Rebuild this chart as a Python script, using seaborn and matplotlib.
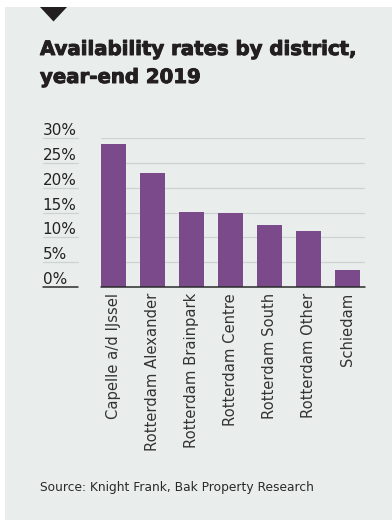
import matplotlib
matplotlib.use("Agg")
import matplotlib.pyplot as plt
import matplotlib.transforms as mtransforms
import matplotlib.patheffects as pe
from matplotlib.patches import Rectangle, Polygon
from matplotlib.lines import Line2D
import seaborn as sns
import pandas as pd

districts = ["Capelle a/d IJssel", "Rotterdam Alexander", "Rotterdam Brainpark",
             "Rotterdam Centre", "Rotterdam South", "Rotterdam Other", "Schiedam"]
availability = [28.9, 23.0, 15.1, 14.9, 12.5, 11.3, 3.4]
y_ticks = [0, 5, 10, 15, 20, 25, 30]
y_tick_labels = ["0%", "5%", "10%", "15%", "20%", "25%", "30%"]

title_lines = ["Availability rates by district,", "year-end 2019"]
source_text = "Source: Knight Frank, Bak Property Research"

W, H = 392, 520
BG = "#E9EEEC"
BAR = "#7B4A8A"

sns.set_theme(style="white")
plt.rcParams["font.family"] = ["DejaVu Sans"]

fig = plt.figure(figsize=(W / 100, H / 100), dpi=100, facecolor="white")

def fx(px):
    return px / W

def fy(py):
    return 1 - py / H

# panel background and marker triangle
fig.patches.append(Rectangle((fx(5), 0), 1 - fx(5), fy(7), transform=fig.transFigure,
                             facecolor=BG, edgecolor="none", zorder=-10))
fig.patches.append(Polygon([(fx(40), fy(7)), (fx(67), fy(7)), (fx(53.5), fy(21.5))],
                           closed=True, transform=fig.transFigure,
                           facecolor="#231F20", edgecolor="none", zorder=-5))

# axes placement
ax_left, ax_right = 101, 365
ax_top, ax_bottom = 138.3, 286.7
ax = fig.add_axes([fx(ax_left), fy(ax_bottom), fx(ax_right) - fx(ax_left),
                   (ax_bottom - ax_top) / H])
ax.set_facecolor("none")

df = pd.DataFrame({"district": districts, "availability": availability})
sns.barplot(data=df, x="district", y="availability", order=districts, color=BAR,
            saturation=1, width=0.62, ax=ax, zorder=3)
for p in ax.patches:
    p.set_edgecolor("none")

ax.set_xlim(-0.32, 6.45)
ax.set_ylim(0, 30)
ax.set_xlabel("")
ax.set_ylabel("")
for s in ax.spines.values():
    s.set_visible(False)

# gridlines
ax.set_yticks(y_ticks)
ax.set_yticklabels([])
ax.tick_params(axis="y", length=0)
ax.yaxis.grid(True, color="#CDD3D1", linewidth=0.9, zorder=0)
ax.xaxis.grid(False)
ax.set_axisbelow(True)
ax.axhline(0, color="#2B2B2B", linewidth=1.1, zorder=4, clip_on=False)

# x tick labels
ax.tick_params(axis="x", length=0, pad=4.5)
ax.set_xticks(range(len(districts)))
ax.set_xticklabels(districts, rotation=90, fontsize=10.6, color="#333333",
                   va="top", ha="center")

# y tick labels, left aligned above short underlines
trans = mtransforms.blended_transform_factory(fig.transFigure, ax.transData)
off = mtransforms.ScaledTranslation(0, 3 / 100, fig.dpi_scale_trans)
for v, lab in zip(y_ticks, y_tick_labels):
    ax.text(fx(42.5), v, lab, transform=trans + off, ha="left", va="baseline",
            fontsize=11, color="#222222", clip_on=False)
    ax.add_line(Line2D([fx(42.5), fx(78.3)], [v, v], transform=trans,
                       color="#2B2B2B" if v == 0 else "#CDD3D1",
                       linewidth=1.1 if v == 0 else 0.9, clip_on=False))

# title
thick = [pe.withStroke(linewidth=0.7, foreground="#231F20")]
fig.text(fx(40), fy(55), title_lines[0], fontsize=14.2, fontweight="bold",
         color="#231F20", ha="left", va="baseline", path_effects=thick)
fig.text(fx(40), fy(83), title_lines[1], fontsize=14.2, fontweight="bold",
         color="#231F20", ha="left", va="baseline", path_effects=thick)

# source
fig.text(fx(40), fy(491), source_text, fontsize=8.85, color="#2A2A2A",
         ha="left", va="baseline")

fig.savefig("out.png", dpi=100, facecolor="white")
